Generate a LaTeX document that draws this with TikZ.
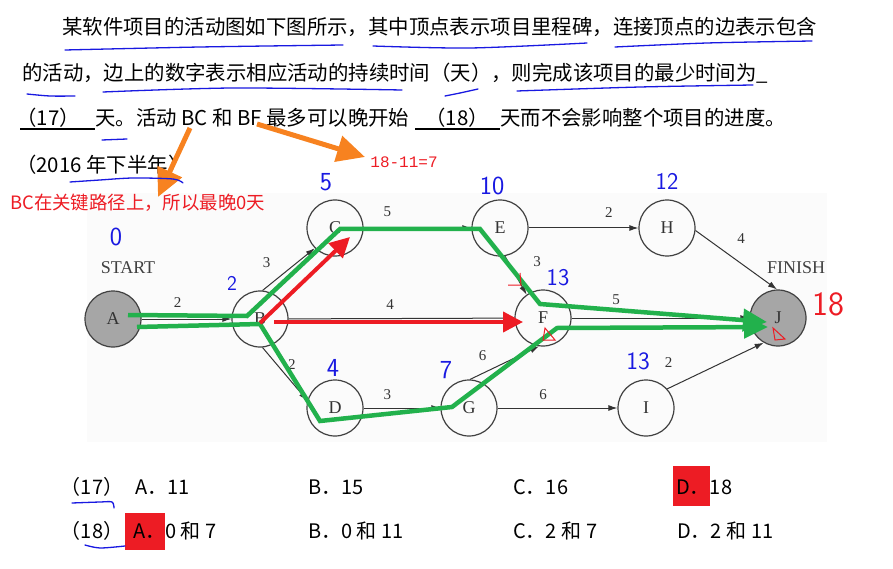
\documentclass[tikz,border=0pt]{standalone}
\usepackage{fontspec}
\setmainfont{Liberation Serif}
\newfontfamily\cjk{Noto Sans CJK SC}
\newfontfamily\monofont{Liberation Mono}
\usetikzlibrary{arrows.meta}
\definecolor{hlgreen}{RGB}{34,177,76}
\definecolor{hlred}{RGB}{237,28,36}
\definecolor{hlorange}{RGB}{247,130,32}
\definecolor{penblue}{RGB}{25,25,225}
\definecolor{paper}{RGB}{251,251,251}

\begin{document}
\begin{tikzpicture}[x=1pt,y=-1pt,
  milestone/.style={circle,draw=black!75,line width=1.2pt,fill=paper,minimum size=56pt,inner sep=0pt,font=\fontsize{18}{18}\selectfont,text=black!80},
  endpoint/.style={milestone,fill=black!35},
  act/.style={-{Latex[length=9pt,width=6pt]},draw=black!80,line width=1pt},
  dur/.style={font=\fontsize{15}{15}\selectfont,text=black!80,inner sep=0pt},
  crit/.style={hlgreen,line width=4.5pt,-{Triangle[length=24pt,width=22pt]}},
  late/.style={hlred,line width=4pt,-{Triangle[length=20pt,width=20pt]}},
  callout/.style={hlorange,line width=5pt,-{Triangle[length=28pt,width=26pt]}},
  pen/.style={penblue,font=\sffamily\fontsize{26}{26}\selectfont,inner sep=0pt},
  uline/.style={penblue,line width=1.3pt,line cap=round},
  txt/.style={font=\cjk\fontsize{20.4}{20.4}\selectfont,anchor=base west,inner sep=0pt},
  opt/.style={font=\cjk\fontsize{20}{20}\selectfont,anchor=base west,inner sep=0pt}]
\useasboundingbox (0,0) rectangle (893,569);

% question text
\node[txt] (line1) at (62,35) {某软件项目的活动图如下图所示，其中顶点表示项目里程碑，连接顶点的边表示包含};
\node[txt] (line2) at (22,81) {的活动，边上的数字表示相应活动的持续时间（天），则完成该项目的最少时间为\_};
\node[txt,anchor=base] (q17) at (48,126) {（17）};
\node[txt] (line3a) at (95,126) {天。活动 BC 和 BF 最多可以晚开始};
\node[txt,anchor=base] (q18) at (457,126) {（18）};
\node[txt] (line3b) at (500,126) {天而不会影响整个项目的进度。};
\node[txt] (line4) at (16,173) {（2016 年下半年）};
\draw[line width=1.2pt] (20,129) -- (95,129);
\draw[line width=1.2pt] (415,129) -- (500,129);

% diagram
\fill[paper] (87,193) rectangle (827,442);

\node[endpoint] (A) at (113,319) {A};
\node[milestone] (B) at (260,319) {B};
\node[milestone] (C) at (335,228) {C};
\node[milestone] (D) at (335,408) {D};
\node[milestone] (E) at (500,228) {E};
\node[milestone] (F) at (543,318) {F};
\node[milestone] (G) at (469,408) {G};
\node[milestone] (H) at (667,228) {H};
\node[milestone] (I) at (646,408) {I};
\node[endpoint] (J) at (778,318) {J};
\node[font=\fontsize{18}{18}\selectfont,text=black!75] (start) at (128,268) {START};
\node[font=\fontsize{18}{18}\selectfont,text=black!75] (finish) at (796,268) {FINISH};

\draw[act] (A) -- node[dur,pos=.4,yshift=16pt] {2} (B);
\draw[act] (B.85) -- node[dur,pos=.5,xshift=-22pt,yshift=7pt] {3} (C.225);
\draw[act] (B) -- node[dur,pos=.45,yshift=14pt] {4} (F);
\draw[act] (B.-85) -- node[dur,pos=.5,xshift=7pt,yshift=10pt] {2} (D.165);
\draw[act] (C) -- node[dur,pos=.22,yshift=16pt] {5} (E);
\draw[act] (E) -- node[dur,pos=.73,yshift=15pt] {2} (H);
\draw[act] (E.-80) -- node[dur,pos=.15,xshift=29pt] {3} (F.125);
\draw[act] (H.-5) -- node[dur,pos=.4,xshift=13pt,yshift=15pt] {4} (J.92);
\draw[act] (F) -- node[dur,pos=.25,yshift=18pt] {5} (J);
\draw[act] (D) -- node[dur,pos=.31,yshift=13pt] {3} (G);
\draw[act] (G.88) -- node[dur,pos=.4,xshift=-15pt,yshift=11pt] {6} (F.-98);
\draw[act] (G) -- node[dur,pos=.38,yshift=13pt] {6} (I);
\draw[act] (I.42) -- node[dur,pos=.2,xshift=-18pt,yshift=17pt] {2} (J.-120);

% marking of the answer
\draw[crit] (128,315) -- (247,316) -- (340,229) -- (480,229) -- (540,304) -- (767,322);
\draw[crit] (137,327) -- (260,324) -- (320,421) -- (452,407) -- (557,328) -- (768,327);
\draw[late] (260,323) -- (350,237);
\draw[late] (274,322) -- (523,322);
\draw[hlred,line width=1pt] (508,285) -- (521,285) -- (520,273);
\draw[hlred,line width=1pt] (545,328) -- (543,340) -- (555,340) -- cycle;
\draw[hlred,line width=1pt] (773,328) -- (775,340) -- (785,339) -- cycle;

\node[pen] (tA) at (116,237) {0};
\node[pen,font=\sffamily\fontsize{21}{21}\selectfont] (tB) at (232,283) {2};
\node[pen] (tC) at (326,182) {5};
\node[pen] (tD) at (333,368) {4};
\node[pen] (tE) at (492,186) {10};
\node[pen] (tG) at (446,370) {7};
\node[pen,font=\sffamily\fontsize{24}{24}\selectfont] (tH) at (667,181) {12};
\node[pen,font=\sffamily\fontsize{24}{24}\selectfont] (tF) at (558,278) {13};
\node[pen,font=\sffamily\fontsize{25}{25}\selectfont] (tI) at (638,361) {13};
\node[pen,hlred,font=\sffamily\fontsize{34}{34}\selectfont] (tJ) at (828,304) {18};

\node[hlred,font=\cjk\fontsize{18.4}{18.4}\selectfont,anchor=west,inner sep=0pt] (noteBC) at (10,203) {BC在关键路径上，所以最晚0天};
\node[hlred,font=\monofont\fontsize{16}{16}\selectfont,inner sep=0pt] (noteBF) at (404,162) {18-11=7};
\draw[callout] (190,128) -- (158,197);
\draw[callout] (257,124) -- (365,157);

% handwritten underlines
\draw[uline] plot[smooth] coordinates {(65,50) (200,47) (343,45)};
\draw[uline] plot[smooth] coordinates {(373,46) (470,48) (587,43)};
\draw[uline] plot[smooth] coordinates {(615,47) (707,43) (812,41)};
\draw[uline] plot[smooth] coordinates {(27,94) (50,96) (75,96)};
\draw[uline] plot[smooth] coordinates {(103,92) (233,88) (402,90)};
\draw[uline] plot[smooth] coordinates {(445,96) (460,93) (478,89)};
\draw[uline] plot[smooth] coordinates {(517,91) (640,87) (753,85)};
\draw[uline] (102,140) -- (127,139);
\draw[uline] plot[smooth] coordinates {(70,182) (100,180) (133,178) (173,179) (183,183)};

% choices
\node[fill=hlred,minimum width=37pt,minimum height=40pt,inner sep=0pt] (keyD) at (691.5,486) {};
\node[fill=hlred,minimum width=40pt,minimum height=37pt,inner sep=0pt] (keyA) at (145,531.5) {};
\node[opt,anchor=base] (o17) at (92,494) {（17）};
\node[opt] (o17a) at (135,494) {A．11};
\node[opt] (o17b) at (308,494) {B．15};
\node[opt] (o17c) at (513,494) {C．16};
\node[opt] (o17d) at (676,494) {D．18};
\node[opt,anchor=base] (o18) at (92,538) {（18）};
\node[opt] (o18a) at (133,538) {A．0 和 7};
\node[opt] (o18b) at (308,538) {B．0 和 11};
\node[opt] (o18c) at (513,538) {C．2 和 7};
\node[opt] (o18d) at (677,538) {D．2 和 11};
\draw[uline] plot[smooth] coordinates {(72,503) (100,502) (112,502) (114,508)};
\draw[uline] plot[smooth] coordinates {(85,545) (100,548) (125,546)};
\end{tikzpicture}
\end{document}
